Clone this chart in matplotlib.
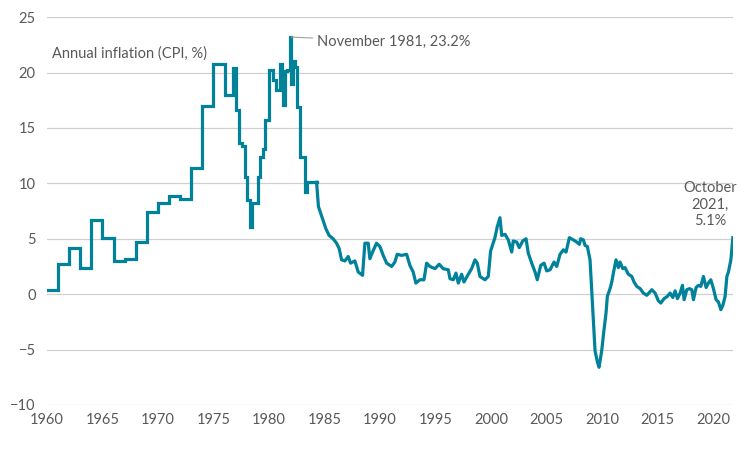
import numpy as np
import matplotlib.pyplot as plt

plt.rcParams['font.family'] = ['Lato', 'DejaVu Sans']

# annual CPI inflation, 1960-1975 (held for the whole year)
annual_years = np.arange(1960, 1976)
annual_cpi = [0.4, 2.7, 4.2, 2.4, 6.7, 5.1, 3.0, 3.2, 4.7, 7.4, 8.2, 8.9, 8.6, 11.4, 17.0, 20.8]

# quarterly-ish readings 1976-1984 (stepped)
step_dates = [1976.0, 1976.8, 1977.0, 1977.27, 1977.55, 1977.8, 1978.05, 1978.27, 1978.45,
              1979.0, 1979.15, 1979.45, 1979.65, 1980.0, 1980.4, 1980.65, 1980.95, 1981.15,
              1981.3, 1981.45, 1981.65, 1981.85, 1982.0, 1982.2, 1982.35, 1982.5, 1982.75,
              1983.25, 1983.45]
step_cpi = [18.0, 20.4, 16.6, 13.6, 13.4, 10.6, 8.5, 6.1, 8.2,
            10.6, 12.4, 13.1, 15.7, 20.2, 19.3, 18.4, 20.8, 19.4,
            17.1, 20.1, 20.2, 23.2, 19.0, 21.0, 20.5, 16.9, 12.4,
            9.2, 10.1]

# 1984 onwards
dates = [1984.28, 1984.45, 1984.82, 1985.12, 1985.41, 1985.77, 1986.08, 1986.32, 1986.53,
         1986.83, 1987.13, 1987.34, 1987.73, 1988.03, 1988.42, 1988.63, 1988.93, 1989.08,
         1989.32, 1989.68, 1989.98, 1990.28, 1990.59, 1991.04, 1991.33, 1991.54, 1991.94,
         1992.39, 1992.68, 1992.98, 1993.22, 1993.58, 1993.95, 1994.19, 1994.49, 1994.94,
         1995.32, 1995.68, 1996.14, 1996.29, 1996.59, 1996.83, 1997.04, 1997.34, 1997.55,
         1997.94, 1998.24, 1998.54, 1998.75, 1998.99, 1999.44, 1999.74, 1999.95, 2000.34,
         2000.55, 2000.79, 2000.95, 2001.25, 2001.54, 2001.85, 2001.99, 2002.30, 2002.53,
         2002.84, 2003.14, 2003.34, 2003.65, 2003.95, 2004.15, 2004.46, 2004.76, 2005.0,
         2005.30, 2005.66, 2005.90, 2006.20, 2006.50, 2006.74, 2007.04, 2007.40, 2007.70,
         2007.94, 2008.06, 2008.30, 2008.45, 2008.66, 2008.90, 2009.05, 2009.20, 2009.35,
         2009.56, 2009.71, 2009.95, 2010.16, 2010.34, 2010.46, 2010.70, 2010.86, 2011.0,
         2011.24, 2011.45, 2011.60, 2011.85, 2012.05, 2012.35, 2012.66, 2012.86, 2013.11,
         2013.41, 2013.70, 2014.01, 2014.46, 2014.76, 2015.05, 2015.27, 2015.57, 2015.86,
         2016.11, 2016.35, 2016.56, 2016.77, 2017.01, 2017.22, 2017.37, 2017.61, 2017.85,
         2018.06, 2018.21, 2018.45, 2018.66, 2018.87, 2019.11, 2019.35, 2019.56, 2019.77,
         2020.01, 2020.25, 2020.46, 2020.68, 2020.86, 2021.06, 2021.22, 2021.36, 2021.58,
         2021.76]
cpi = [10.1, 7.9, 6.8, 5.9, 5.3, 5.0, 4.6, 4.1, 3.1,
       3.0, 3.4, 2.8, 3.0, 2.0, 1.7, 4.6, 4.6, 3.2,
       3.8, 4.6, 4.3, 3.5, 2.8, 2.5, 2.9, 3.6, 3.5,
       3.6, 2.6, 2.0, 1.0, 1.3, 1.3, 2.8, 2.5, 2.3,
       2.7, 2.3, 2.2, 1.4, 1.3, 1.9, 1.0, 1.8, 1.1,
       1.8, 2.3, 3.1, 2.8, 1.6, 1.3, 1.6, 3.9, 5.1,
       6.1, 6.9, 5.3, 5.4, 4.9, 3.8, 4.8, 4.7, 4.2,
       4.8, 5.0, 3.7, 2.8, 2.0, 1.3, 2.6, 2.8, 2.1,
       2.2, 2.9, 2.5, 3.6, 4.0, 3.8, 5.1, 4.9, 4.7,
       4.5, 5.0, 4.9, 4.4, 4.3, 3.1, 0.4, -2.3, -5.1,
       -6.1, -6.6, -5.1, -3.2, -1.7, -0.2, 0.5, 1.1, 1.9,
       3.1, 2.4, 2.9, 2.3, 2.4, 1.8, 1.6, 1.1, 0.7,
       0.5, 0.1, -0.1, 0.4, 0.1, -0.6, -0.8, -0.4, -0.2,
       0.1, -0.3, 0.3, -0.4, 0.1, 0.8, -0.5, 0.4, 0.5,
       0.4, -0.5, 0.6, 0.8, 0.7, 1.6, 0.6, 1.0, 1.3,
       0.5, -0.5, -0.7, -1.4, -1.0, -0.2, 1.6, 2.0, 3.1,
       5.1]

col = '#00829B'
grey = '#595959'

fig = plt.figure(figsize=(7.56, 4.5), dpi=100)
ax = fig.add_axes([0.062, 0.1, 0.908, 0.862])

x_step = list(annual_years) + step_dates + [dates[0]]
y_step = annual_cpi + step_cpi + [step_cpi[-1]]
ax.step(x_step, y_step, where='post', color=col, lw=2.3, solid_joinstyle='miter')
ax.plot([dates[0]] + dates, [step_cpi[-1]] + cpi, color=col, lw=2.3, solid_joinstyle='round')

ax.set_xlim(1960, 2021.8)
ax.set_ylim(-10, 25)
ax.set_xticks(range(1960, 2021, 5))
ax.set_yticks(range(-10, 26, 5))
ax.grid(axis='y', color='#D0D0D0', lw=0.9)
ax.set_axisbelow(True)
for s in ax.spines.values():
    s.set_visible(False)
ax.tick_params(length=0, labelsize=10.5, colors=grey, pad=8)
ax.tick_params(axis='x', pad=6)

ax.text(1960.5, 21.7, 'Annual inflation (CPI, %)', fontsize=10.5, color=grey, va='center')
ax.annotate('November 1981, 23.2%', xy=(1981.87, 23.2), xytext=(1984.3, 22.8),
            fontsize=10.5, color=grey, va='center',
            arrowprops=dict(arrowstyle='-', color='#A0A0A0', lw=0.8, shrinkA=1, shrinkB=1))
ax.text(2019.7, 8.1, 'October\n2021,\n5.1%', fontsize=10.5, color=grey,
        ha='center', va='center', multialignment='center', linespacing=1.25)

fig.savefig('out.png', dpi=100)
